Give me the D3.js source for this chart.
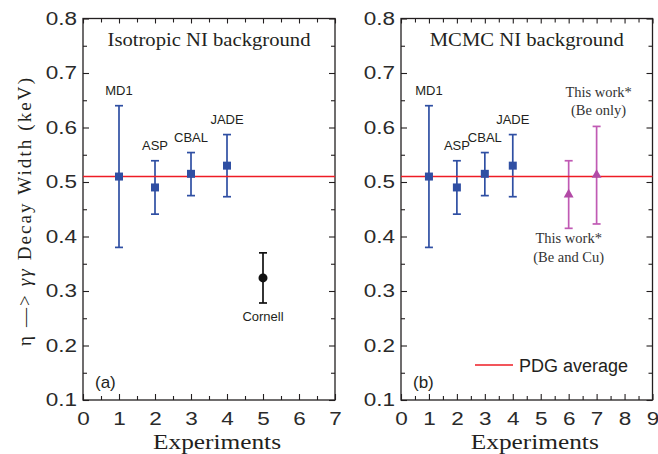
<!DOCTYPE html>
<html>
<head>
<meta charset="utf-8">
<script src="https://cdn.jsdelivr.net/npm/d3@7"></script>
<style>
  body { margin: 0; background: #fff; }
  svg { display: block; }
</style>
</head>
<body>
<svg id="chart" width="658" height="454"></svg>
<script>
// Previous measurements of the eta -> gamma gamma decay width (keV)
const expNames   = ["MD1", "ASP", "CBAL", "JADE"];
const expX       = [1, 2, 3, 4];
const expWidth   = [0.510, 0.490, 0.515, 0.530];
const expErrLow  = [0.130, 0.049, 0.040, 0.057];
const expErrHigh = [0.130, 0.049, 0.039, 0.057];

// Cornell result (isotropic background fit)
const cornellName  = "Cornell";
const cornellX     = 5;
const cornellWidth = 0.324;
const cornellErr   = 0.046;

// This work (MCMC background fit)
const thisX       = [6, 7];
const thisWidth   = [0.477, 0.513];
const thisErrLow  = [0.062, 0.090];
const thisErrHigh = [0.062, 0.089];
const thisLabels  = [["This work*", "(Be and Cu)"], ["This work*", "(Be only)"]];

// PDG average
const pdgAverage = 0.510;
const pdgLabel = "PDG average";

// Axes
const yTicks = [0.1, 0.2, 0.3, 0.4, 0.5, 0.6, 0.7, 0.8];
const yMinor = [0.15, 0.25, 0.35, 0.45, 0.55, 0.65, 0.75];
const xMaxA = 7, xMaxB = 9;
const panelTitles = ["Isotropic NI background", "MCMC NI background"];
const panelTitleWidths = [203, 194];
const panelTags = ["(a)", "(b)"];
const xTitle = "Experiments";

const BLUE = "#2f4fa3";
const MAGENTA = "#c05ab4";
const MAG_MARK = "#b24aa6";
const RED = "#ee1c25";
const INK = "#231f20";
const SANS = "'Liberation Sans', Arial, sans-serif";
const SERIF = "'Liberation Serif', 'Times New Roman', serif";

const svg = d3.select("#chart");
const plotTop = 18.5, plotBottom = 400;
const y = d3.scaleLinear().domain([0.1, 0.8]).range([plotBottom, plotTop]);
const TICK_STRETCH = 1.25;

function steps(n, step) { const a = []; for (let v = 0; v <= n + 1e-9; v += step) a.push(+v.toFixed(2)); return a; }

function drawPanel(left, right, xMax, idx) {
  const x = d3.scaleLinear().domain([0, xMax]).range([left, right]);
  const g = svg.append("g");
  const xMajor = steps(xMax, 1);
  const xMinorVals = steps(xMax, 0.5).filter(v => v % 1 !== 0);

  // bottom axis
  g.append("g").attr("transform", `translate(0,${plotBottom})`)
    .call(d3.axisBottom(x).tickValues(xMajor).tickFormat(d3.format("d")).tickSize(-6).tickPadding(12))
    .call(a => a.select(".domain").remove());
  g.append("g").attr("transform", `translate(0,${plotBottom})`)
    .call(d3.axisBottom(x).tickValues(xMinorVals).tickFormat("").tickSize(-4))
    .call(a => a.select(".domain").remove());
  // top axis
  g.append("g").attr("transform", `translate(0,${plotTop})`)
    .call(d3.axisTop(x).tickValues(xMajor).tickFormat("").tickSize(-5))
    .call(a => a.select(".domain").remove());
  g.append("g").attr("transform", `translate(0,${plotTop})`)
    .call(d3.axisTop(x).tickValues(xMinorVals).tickFormat("").tickSize(-4))
    .call(a => a.select(".domain").remove());
  // left axis
  g.append("g").attr("transform", `translate(${left},0)`)
    .call(d3.axisLeft(y).tickValues(yTicks).tickFormat(d3.format(".1f")).tickSize(-6).tickPadding(6 / TICK_STRETCH))
    .call(a => a.select(".domain").remove());
  g.append("g").attr("transform", `translate(${left},0)`)
    .call(d3.axisLeft(y).tickValues(yMinor).tickFormat("").tickSize(-4))
    .call(a => a.select(".domain").remove());
  // right axis
  g.append("g").attr("transform", `translate(${right},0)`)
    .call(d3.axisRight(y).tickValues(yTicks).tickFormat("").tickSize(-6))
    .call(a => a.select(".domain").remove());
  g.append("g").attr("transform", `translate(${right},0)`)
    .call(d3.axisRight(y).tickValues(yMinor).tickFormat("").tickSize(-4))
    .call(a => a.select(".domain").remove());

  g.selectAll(".tick line").attr("stroke", INK).attr("stroke-width", 1.1);
  g.selectAll(".tick text").attr("font-family", SANS).attr("font-size", 18)
    .attr("fill", "#2a2a2a").attr("transform", `scale(${TICK_STRETCH},1)`);

  // frame
  g.append("rect").attr("x", left).attr("y", plotTop)
    .attr("width", right - left).attr("height", plotBottom - plotTop)
    .attr("fill", "none").attr("stroke", INK).attr("stroke-width", 1.3);

  // panel title
  g.append("text").attr("x", (left + right) / 2).attr("y", 46)
    .attr("text-anchor", "middle").attr("font-family", SERIF).attr("font-size", 19.5)
    .attr("textLength", panelTitleWidths[idx]).attr("lengthAdjust", "spacingAndGlyphs")
    .attr("fill", INK).text(panelTitles[idx]);

  // panel tag
  g.append("text").attr("x", left + 12).attr("y", 388)
    .attr("font-family", SANS).attr("font-size", 17).attr("fill", INK).text(panelTags[idx]);

  // x title
  g.append("text").attr("x", (left + right) / 2 + 8).attr("y", 449)
    .attr("text-anchor", "middle").attr("font-family", SERIF).attr("font-size", 21)
    .attr("textLength", 128).attr("lengthAdjust", "spacingAndGlyphs")
    .attr("fill", INK).text(xTitle);

  return { g, x };
}

function errorBars(g, x, xs, vals, lo, hi, color) {
  const cap = 4;
  xs.forEach((xv, i) => {
    const cx = x(xv), y1 = y(vals[i] - lo[i]), y2 = y(vals[i] + hi[i]);
    g.append("line").attr("x1", cx).attr("x2", cx).attr("y1", y1).attr("y2", y2)
      .attr("stroke", color).attr("stroke-width", 1.7);
    [y1, y2].forEach(yy => g.append("line").attr("x1", cx - cap).attr("x2", cx + cap)
      .attr("y1", yy).attr("y2", yy).attr("stroke", color).attr("stroke-width", 1.7));
  });
}

function squares(g, x, xs, vals) {
  g.selectAll(null).data(xs).enter().append("rect")
    .attr("x", (d) => x(d) - 4).attr("y", (d, i) => y(vals[i]) - 4)
    .attr("width", 8).attr("height", 8).attr("fill", BLUE);
}

function expLabels(g, x) {
  g.selectAll(null).data(expNames).enter().append("text")
    .attr("x", (d, i) => x(expX[i])).attr("y", (d, i) => y(expWidth[i] + expErrHigh[i]) - 11)
    .attr("text-anchor", "middle").attr("font-family", SANS).attr("font-size", 13)
    .attr("fill", INK).text(d => d);
}

function pdgLine(g, x, xMax) {
  g.append("line").attr("x1", x(0)).attr("x2", x(xMax))
    .attr("y1", y(pdgAverage)).attr("y2", y(pdgAverage))
    .attr("stroke", RED).attr("stroke-width", 1.6);
}

// Panel (a)
const A = drawPanel(83, 335, xMaxA, 0);
errorBars(A.g, A.x, expX, expWidth, expErrLow, expErrHigh, BLUE);
errorBars(A.g, A.x, [cornellX], [cornellWidth], [cornellErr], [cornellErr], "#111");
pdgLine(A.g, A.x, xMaxA);
squares(A.g, A.x, expX, expWidth);
A.g.append("circle").attr("cx", A.x(cornellX)).attr("cy", y(cornellWidth)).attr("r", 4.5).attr("fill", "#111");
expLabels(A.g, A.x);
A.g.append("text").attr("x", A.x(cornellX)).attr("y", y(cornellWidth - cornellErr) + 18)
  .attr("text-anchor", "middle").attr("font-family", SANS).attr("font-size", 13)
  .attr("fill", INK).text(cornellName);

// Panel (b)
const B = drawPanel(401, 652.5, xMaxB, 1);
errorBars(B.g, B.x, expX, expWidth, expErrLow, expErrHigh, BLUE);
errorBars(B.g, B.x, thisX, thisWidth, thisErrLow, thisErrHigh, MAGENTA);
pdgLine(B.g, B.x, xMaxB);
squares(B.g, B.x, expX, expWidth);
const tri = d3.symbol().type(d3.symbolTriangle).size(42);
B.g.selectAll(null).data(thisX).enter().append("path")
  .attr("d", tri)
  .attr("transform", (d, i) => `translate(${B.x(d)},${y(thisWidth[i])})`)
  .attr("fill", MAG_MARK);
expLabels(B.g, B.x);

// labels for this work: first below its bar, second above
const lbl0 = B.g.append("text").attr("text-anchor", "middle").attr("font-family", SERIF)
  .attr("font-size", 14.5).attr("fill", "#333");
lbl0.append("tspan").attr("x", B.x(thisX[0])).attr("y", y(thisWidth[0] - thisErrLow[0]) + 15).text(thisLabels[0][0]);
lbl0.append("tspan").attr("x", B.x(thisX[0])).attr("dy", 19).text(thisLabels[0][1]);
const lbl1 = B.g.append("text").attr("text-anchor", "middle").attr("font-family", SERIF)
  .attr("font-size", 14.5).attr("fill", "#333");
lbl1.append("tspan").attr("x", B.x(thisX[1]) + 2).attr("y", y(thisWidth[1] + thisErrHigh[1]) - 29).text(thisLabels[1][0]);
lbl1.append("tspan").attr("x", B.x(thisX[1]) + 2).attr("dy", 18).text(thisLabels[1][1]);

// legend
B.g.append("line").attr("x1", 475).attr("x2", 513).attr("y1", 365).attr("y2", 365)
  .attr("stroke", RED).attr("stroke-width", 1.6);
B.g.append("text").attr("x", 519).attr("y", 372).attr("font-family", SANS)
  .attr("font-size", 18).attr("fill", INK).text(pdgLabel);

// shared y title, with italic gammas
const yt = svg.append("text").attr("transform", "translate(31,212) rotate(-90)")
  .attr("text-anchor", "middle").attr("font-family", SERIF).attr("font-size", 19)
  .attr("textLength", 268).attr("lengthAdjust", "spacing").attr("fill", INK);
yt.append("tspan").text("\u03b7 \u2014> ");
yt.append("tspan").attr("font-style", "italic").text("\u03b3\u03b3");
yt.append("tspan").text(" Decay Width (keV)");
</script>
</body>
</html>
